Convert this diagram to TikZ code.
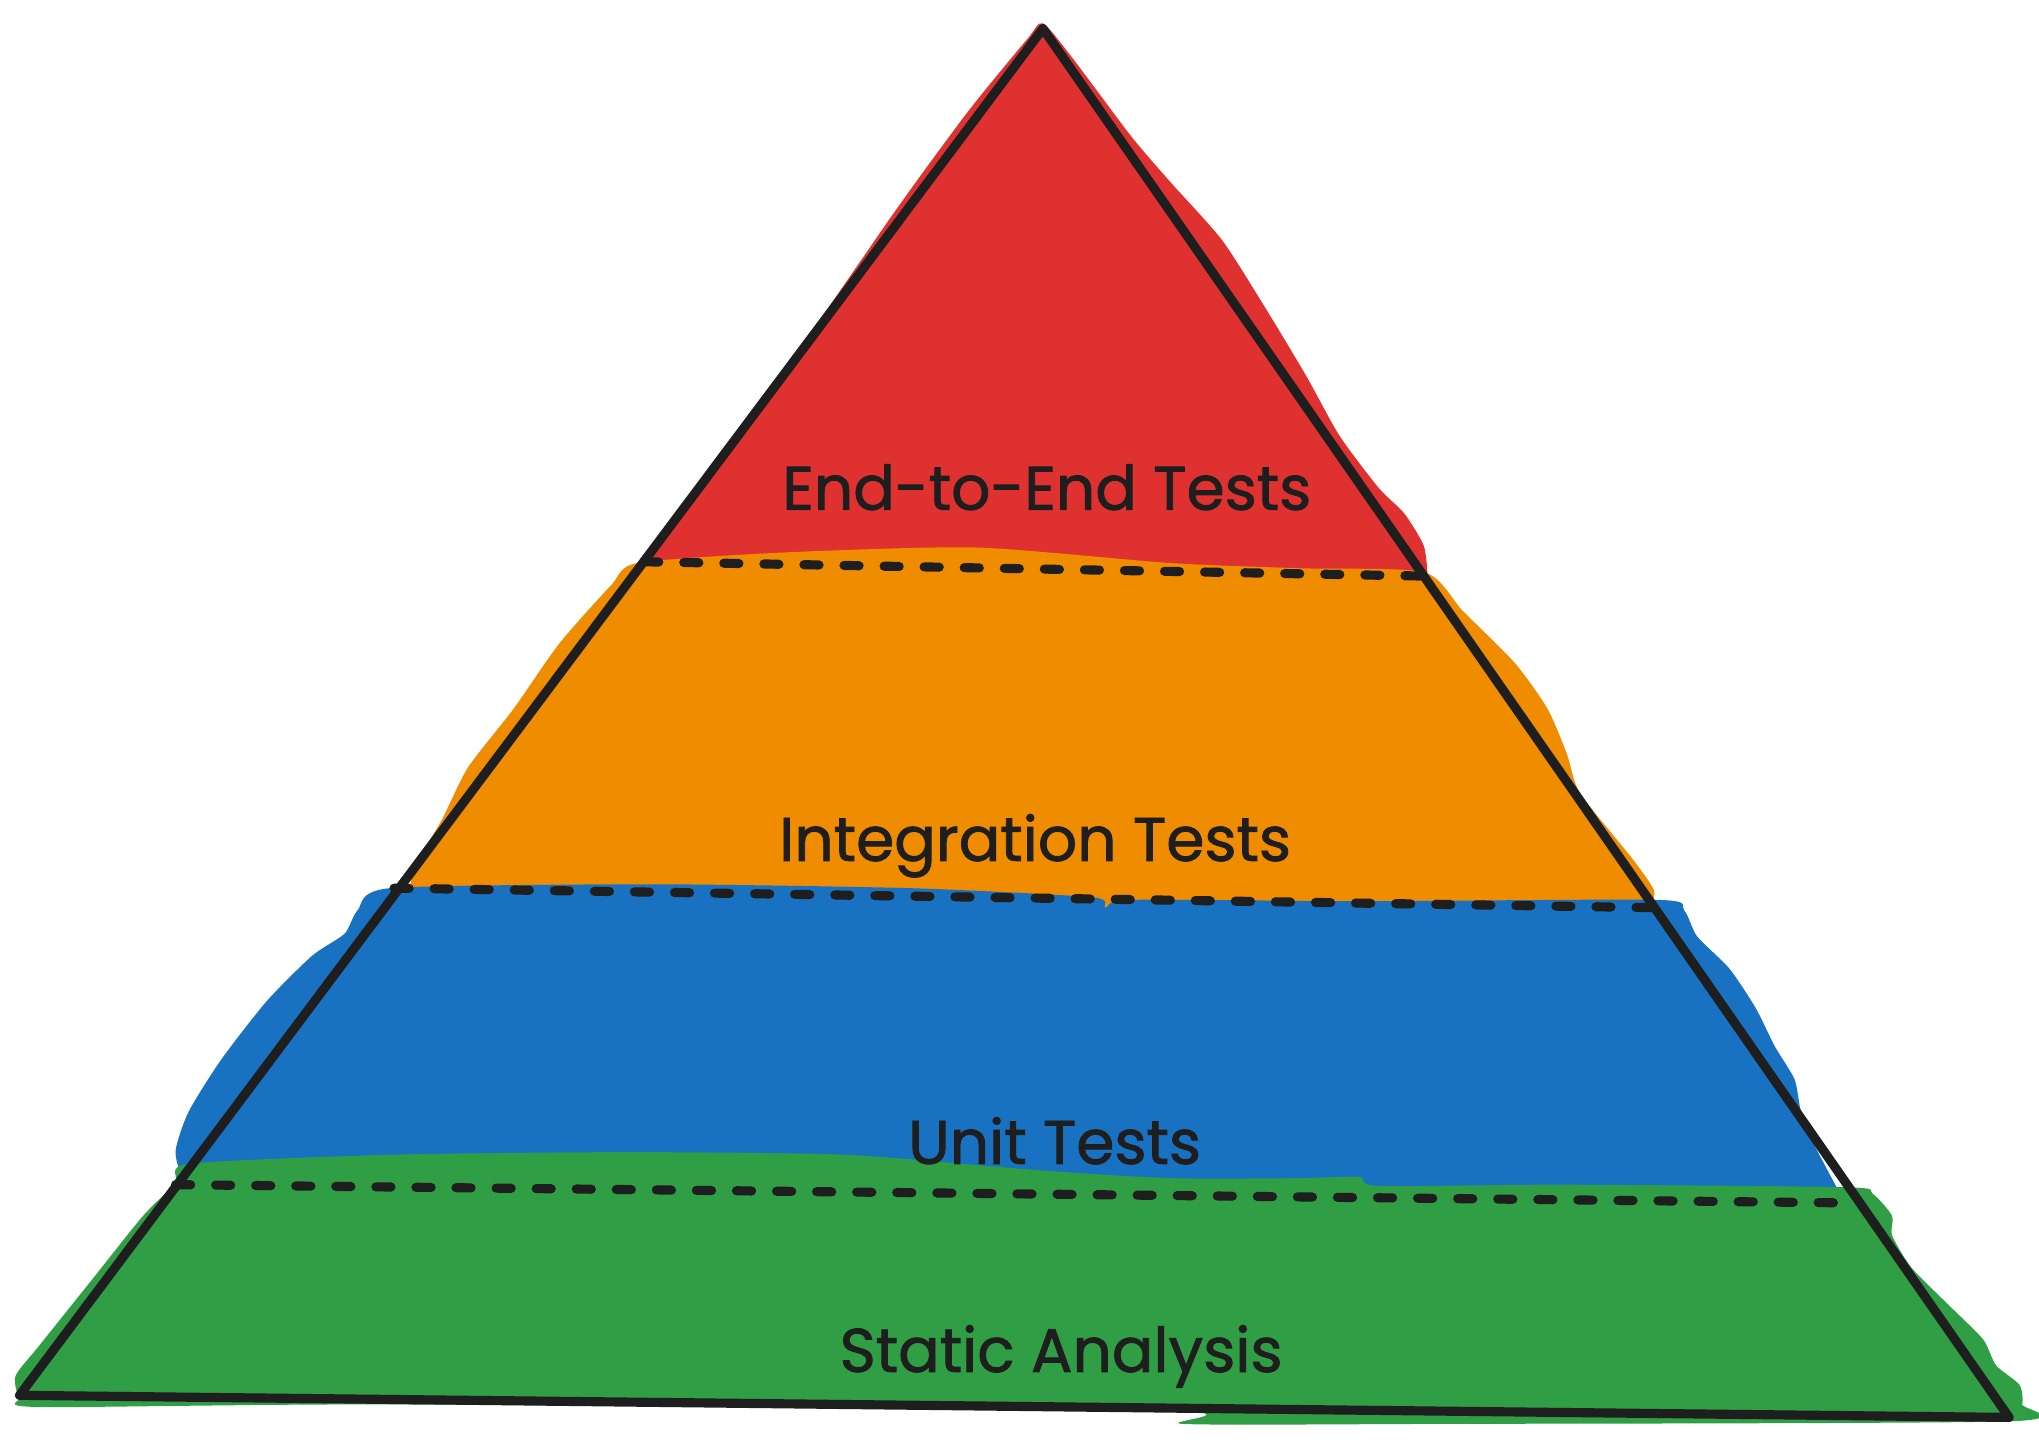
\documentclass[tikz,border=0pt]{standalone}
\usepackage{fontspec}
\setmainfont{Poppins}
\newfontfamily\tierfont[FakeBold=1.4]{Poppins}
\definecolor{xred}{HTML}{E03131}
\definecolor{xorange}{HTML}{F08C00}
\definecolor{xblue}{HTML}{1971C2}
\definecolor{xgreen}{HTML}{2F9E44}
\definecolor{xink}{HTML}{1E1E1E}

\begin{document}
\begin{tikzpicture}[x=0.13004mm,y=-0.13004mm,
  outline/.style={line width=2.6pt,draw=xink,line join=round,line cap=round},
  split/.style={line width=2.6pt,draw=xink,line cap=round,dash pattern=on 4.3pt off 7.1pt},
  tier/.style={font=\tierfont\fontsize{17.5}{20}\selectfont,text=xink,anchor=base}]
\useasboundingbox (0,0) rectangle (1568,1111);

% Corners
\coordinate (apex) at (802,22);
\coordinate (bl) at (15,1073);
\coordinate (br) at (1545,1090);

% Layers
\fill[xred] plot[smooth,tension=0.4] coordinates {(492,440) (600,290) (690,160) (745,85) (790,30) (802,18) (825,45) (870,105) (900,140) (940,185) (975,240) (1005,290) (1030,335) (1060,375) (1080,395) (1095,420) (1098,445)} -- cycle;
\fill[xorange] plot[smooth,tension=0.4] coordinates {(312,695) (320,665) (340,630) (360,590) (395,545) (430,495) (470,450) (490,433) (600,425) (750,421) (900,433) (1000,437) (1095,440) (1125,470) (1165,510) (1190,545) (1205,580) (1215,610) (1255,660) (1272,685) (1268,700)} -- cycle;
\fill[xblue] plot[smooth,tension=0.4] coordinates {(150,920) (140,905) (135,885) (145,855) (170,815) (205,770) (240,735) (265,718) (275,700) (300,683) (500,680) (700,683) (840,690) (850,698) (870,692) (1050,693) (1275,692) (1295,700) (1305,720) (1330,745) (1350,775) (1365,805) (1380,830) (1385,855) (1395,880) (1415,918)} -- cycle;
\fill[xgreen] plot[smooth cycle,tension=0.4] coordinates {(135,910) (145,895) (300,888) (480,886) (650,888) (800,900) (900,906) (1000,906) (1045,905) (1060,912) (1200,911) (1420,913) (1440,918) (1455,935) (1455,950) (1470,975) (1500,1005) (1525,1030) (1535,1050) (1553,1065) (1555,1080) (1545,1093) (1100,1095) (910,1095) (900,1085) (300,1080) (30,1082) (15,1075) (12,1058) (30,1035) (70,985) (110,935)};

% Dividers
\coordinate (s1l) at (495,432); \coordinate (s1r) at (1095,443);
\coordinate (s2l) at (303,683); \coordinate (s2r) at (1272,698);
\coordinate (s3l) at (135,911); \coordinate (s3r) at (1418,925);
\draw[split] (s1l) -- (s1r);
\draw[split] (s2l) -- (s2r);
\draw[split] (s3l) -- (s3r);

% Pyramid
\draw[outline] (apex) -- (bl) -- (br) -- cycle;

% Labels
\node[tier] (e2e) at (805,392) {End-to-End Tests};
\node[tier] (integ) at (796,662) {Integration Tests};
\node[tier] (unit) at (811,895) {Unit Tests};
\node[tier] (static) at (816,1055) {Static Analysis};
\end{tikzpicture}
\end{document}
